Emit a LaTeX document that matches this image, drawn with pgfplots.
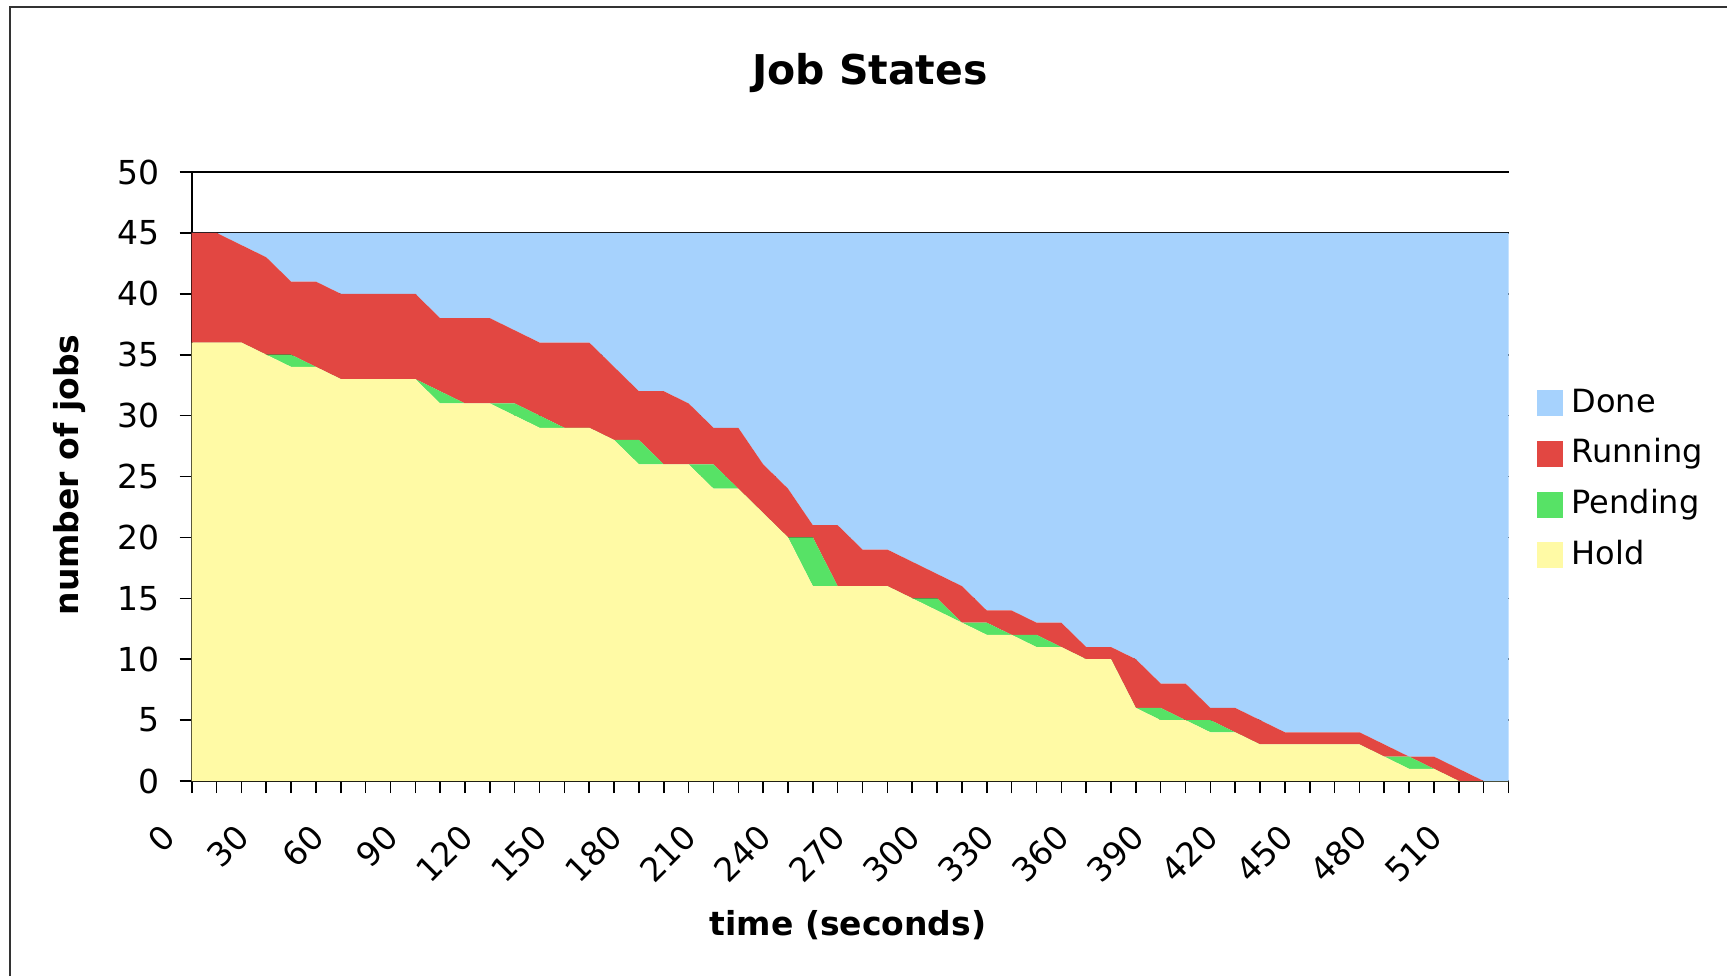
\documentclass[border=0pt]{standalone}
\usepackage{pgfplots}
\pgfplotsset{compat=1.18}
\usepackage{pgfplotstable}
\usepackage{fontspec}
\setmainfont{DejaVu Sans}
\definecolor{cdone}{RGB}{166,210,253}
\definecolor{crun}{RGB}{226,71,66}
\definecolor{cpend}{RGB}{87,226,102}
\definecolor{chold}{RGB}{255,250,165}

\pgfplotstableread{
t hold pending running done
0 36 0 9 0
10 36 0 9 0
20 36 0 8 1
30 35 0 8 2
40 34 1 6 4
50 34 0 7 4
60 33 0 7 5
70 33 0 7 5
80 33 0 7 5
90 33 0 7 5
100 31 1 6 7
110 31 0 7 7
120 31 0 7 7
130 30 1 6 8
140 29 1 6 9
150 29 0 7 9
160 29 0 7 9
170 28 0 6 11
180 26 2 4 13
190 26 0 6 13
200 26 0 5 14
210 24 2 3 16
220 24 0 5 16
230 22 0 4 19
240 20 0 4 21
250 16 4 1 24
260 16 0 5 24
270 16 0 3 26
280 16 0 3 26
290 15 0 3 27
300 14 1 2 28
310 13 0 3 29
320 12 1 1 31
330 12 0 2 31
340 11 1 1 32
350 11 0 2 32
360 10 0 1 34
370 10 0 1 34
380 6 0 4 35
390 5 1 2 37
400 5 0 3 37
410 4 1 1 39
420 4 0 2 39
430 3 0 2 40
440 3 0 1 41
450 3 0 1 41
460 3 0 1 41
470 3 0 1 41
480 2 0 1 42
490 1 1 0 43
500 1 0 1 43
510 0 0 1 44
520 0 0 0 45
530 0 0 0 45
}\jobs

\begin{document}
\begin{tikzpicture}
\path[use as bounding box] (0,0) rectangle (863.5pt,488pt);
\draw[line width=1pt, black!80] (5pt,0) -- (5pt,484.5pt) -- (863.5pt,484.5pt);
\begin{axis}[
  at={(95.85pt,97.5pt)}, anchor=south west,
  scale only axis, width=658.4pt, height=304.5pt,
  xmin=0, xmax=530, ymin=0, ymax=50,
  stack plots=y,
  axis x line*=bottom, axis y line*=left,
  axis line style={-, line width=0.8pt, black},
  ytick={0,5,...,50},
  xtick={0,30,...,510},
  minor xtick={10,20,...,530},
  tick align=outside,
  major tick length=6pt, minor tick length=6pt,
  tick style={black, line width=0.8pt},
  ymajorgrids, grid style={black, line width=0.8pt},
  /pgf/number format/assume math mode=true,
  yticklabel style={font=\fontsize{16.5}{18}\selectfont, inner sep=0pt, anchor=east, xshift=-10pt},
  xticklabel style={font=\fontsize{16.5}{18}\selectfont, inner sep=0pt, xshift=-11.5pt, yshift=-19pt, rotate=45, anchor=east},
  title={Job States},
  title style={at={(axis description cs:0.515,1.142)}, anchor=center, yshift=0pt, font=\bfseries\fontsize{20.5}{24}\selectfont},
  xlabel={time (seconds)},
  xlabel style={at={(axis description cs:0.4984,-0.2365)}, anchor=center, font=\bfseries\fontsize{16.5}{20}\selectfont},
  ylabel={number of jobs},
  ylabel style={at={(axis description cs:-0.0925,0.5025)}, anchor=center, font=\bfseries\fontsize{16.5}{20}\selectfont},
  reverse legend,
  legend cell align=left,
  legend image code/.code={\fill[#1] (0pt,-6.5pt) rectangle (13pt,6.5pt);},
  legend style={at={(1.021,0.4955)}, anchor=west, draw=none, fill=none, inner sep=0pt,
    font=\fontsize{16}{19}\selectfont, row sep=8.3pt,
    nodes={inner sep=1pt, text height=12pt, text depth=3pt},
    /tikz/every odd column/.append style={column sep=3.5pt}},
]
\addplot[fill=chold, draw=none] table[x=t, y=hold] {\jobs} \closedcycle;
\addplot[fill=cpend, draw=none] table[x=t, y=pending] {\jobs} \closedcycle;
\addplot[fill=crun, draw=none] table[x=t, y=running] {\jobs} \closedcycle;
\addplot[fill=cdone, draw=none] table[x=t, y=done] {\jobs} \closedcycle;
\legend{Hold, Pending, Running, Done}
\end{axis}
\end{tikzpicture}
\end{document}
